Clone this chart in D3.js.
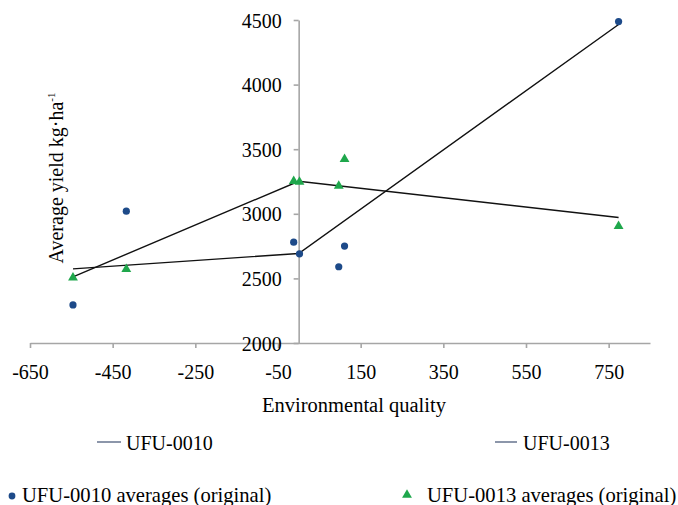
<!DOCTYPE html>
<html>
<head>
<meta charset="utf-8">
<script src="https://cdn.jsdelivr.net/npm/d3@7"></script>
<style>
  body { margin: 0; background: #fff; }
  svg text { font-family: "Liberation Serif", "Times New Roman", serif; fill: #000; }
</style>
</head>
<body>
<div id="chart"></div>
<script>
var w = 678;
var h = 505;

// environmental quality (x) and average yield (y)
var env0010 = [-546, -417, -12, 2, 97, 111, 774];
var yield0010 = [2295, 3020, 2780, 2690, 2590, 2750, 4488];
var env0013 = [-546, -417, -12, 2, 97, 111, 774];
var yield0013 = [2505, 2572, 3252, 3247, 3216, 3422, 2904];

// fitted segmented lines
var fitX0010 = [-546, 0, 774];
var fitY0010 = [2574, 2693, 4465];
var fitX0013 = [-546, 0, 774];
var fitY0013 = [2512, 3252, 2971];

var xTicks = [-650, -450, -250, -50, 150, 350, 550, 750];
var yTicks = [2000, 2500, 3000, 3500, 4000, 4500];

var blue = "#1d4a89";
var green = "#1fa74c";
var axisGray = "#a6a6a6";

var svg = d3.select("#chart").append("svg")
    .attr("width", w)
    .attr("height", h);

var x = d3.scaleLinear().domain([-650, 850]).range([30, 650]);
var y = d3.scaleLinear().domain([2000, 4500]).range([343, 20]);

// x axis at y = 2000
var xAxis = svg.append("g")
    .attr("transform", "translate(0," + y(2000) + ")")
    .call(d3.axisBottom(x).tickValues(xTicks).tickSize(5).tickSizeOuter(0).tickFormat(d => String(d)));

// y axis crossing at x = 0
var yAxis = svg.append("g")
    .attr("transform", "translate(" + x(0) + ",0)")
    .call(d3.axisLeft(y).tickValues(yTicks).tickSize(5).tickSizeOuter(0).tickPadding(12).tickFormat(d => String(d)));

[xAxis, yAxis].forEach(function(a) {
    a.attr("font-family", "Liberation Serif").attr("font-size", 20);
    a.selectAll("path, line").attr("stroke", axisGray).attr("stroke-width", 1.6);
    a.selectAll("text").attr("fill", "#000");
});
xAxis.selectAll("text").attr("y", 22);
yAxis.selectAll("text").attr("dy", "0.35em");

// axis titles
svg.append("text")
    .attr("x", 354)
    .attr("y", 412)
    .attr("text-anchor", "middle")
    .style("font-size", "20.5px")
    .text("Environmental quality");

var yt = svg.append("text")
    .attr("transform", "translate(63,178) rotate(-90)")
    .attr("text-anchor", "middle")
    .style("font-size", "20px");
yt.append("tspan").text("Average yield kg·ha");
yt.append("tspan").attr("dy", -8).style("font-size", "11px").text("-1");

// fitted lines
var line = d3.line().x(d => x(d[0])).y(d => y(d[1]));
svg.append("path")
    .datum(d3.zip(fitX0010, fitY0010))
    .attr("d", line)
    .attr("fill", "none")
    .attr("stroke", "#111")
    .attr("stroke-width", 1.4);
svg.append("path")
    .datum(d3.zip(fitX0013, fitY0013))
    .attr("d", line)
    .attr("fill", "none")
    .attr("stroke", "#111")
    .attr("stroke-width", 1.4);

// points
var tri = d3.symbol().type(d3.symbolTriangle).size(42);
svg.selectAll(".tri")
    .data(d3.zip(env0013, yield0013))
    .enter().append("path")
    .attr("class", "tri")
    .attr("d", tri)
    .attr("transform", d => "translate(" + x(d[0]) + "," + y(d[1]) + ")")
    .attr("fill", green);

svg.selectAll(".dot")
    .data(d3.zip(env0010, yield0010))
    .enter().append("circle")
    .attr("class", "dot")
    .attr("cx", d => x(d[0]))
    .attr("cy", d => y(d[1]))
    .attr("r", 3.6)
    .attr("fill", blue);

// legend
var legendLine = "#6f7c95";
var lg = svg.append("g").style("font-size", "20px");

lg.append("line").attr("x1", 97).attr("x2", 121).attr("y1", 442).attr("y2", 442)
    .attr("stroke", legendLine).attr("stroke-width", 1.6);
lg.append("text").attr("x", 126).attr("y", 450).text("UFU-0010");

lg.append("line").attr("x1", 495).attr("x2", 517).attr("y1", 442).attr("y2", 442)
    .attr("stroke", legendLine).attr("stroke-width", 1.6);
lg.append("text").attr("x", 523).attr("y", 450).text("UFU-0013");

lg.append("circle").attr("cx", 12).attr("cy", 496).attr("r", 3.4).attr("fill", blue);
lg.append("text").attr("x", 22).attr("y", 502).style("font-size", "20.6px").text("UFU-0010 averages (original)");

lg.append("path").attr("d", tri).attr("transform", "translate(407,495)").attr("fill", green);
lg.append("text").attr("x", 427).attr("y", 502).style("font-size", "20.6px").text("UFU-0013 averages (original)");
</script>
</body>
</html>
